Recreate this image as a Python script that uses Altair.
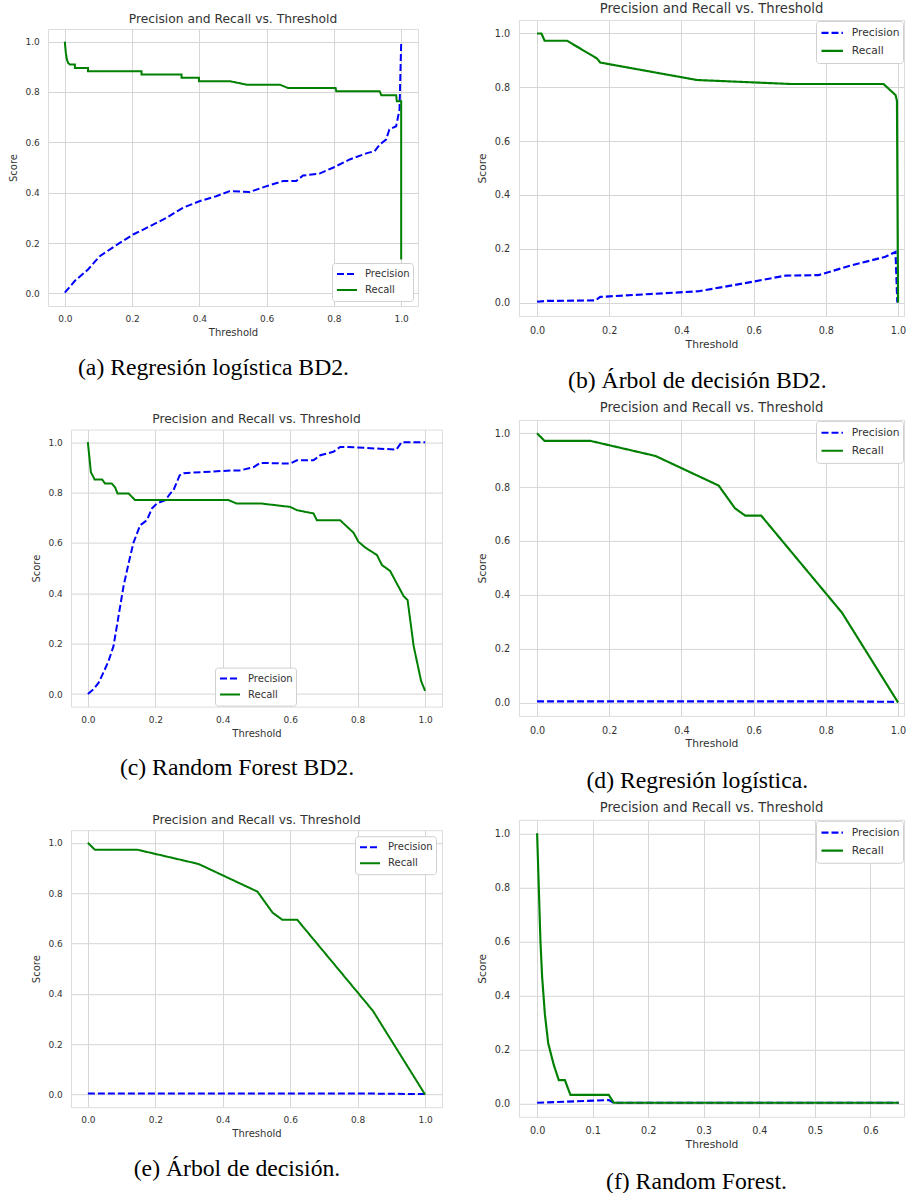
import altair as alt
import pandas as pd

# ---------------- data ----------------
a_prec_x = [0.0, 0.03, 0.069, 0.104, 0.149, 0.203, 0.243, 0.302, 0.351, 0.4, 0.45, 0.49, 0.55, 0.6,
            0.649, 0.688, 0.708, 0.757, 0.797, 0.847, 0.896, 0.921, 0.936, 0.955, 0.965, 0.985, 0.995, 1.0]
a_prec_y = [0.003, 0.05, 0.095, 0.148, 0.188, 0.234, 0.26, 0.30, 0.34, 0.366, 0.386, 0.406, 0.403, 0.426,
            0.446, 0.446, 0.468, 0.476, 0.499, 0.532, 0.556, 0.565, 0.591, 0.611, 0.651, 0.664, 0.73, 0.995]
a_rec_x = [0.0, 0.003, 0.006, 0.01, 0.015, 0.03, 0.03, 0.069, 0.069, 0.228, 0.228, 0.347, 0.347, 0.399,
           0.399, 0.49, 0.54, 0.639, 0.663, 0.805, 0.807, 0.936, 0.941, 0.985, 0.987, 1.0, 1.0]
a_rec_y = [1.0, 0.955, 0.93, 0.915, 0.909, 0.909, 0.895, 0.895, 0.882, 0.882, 0.869, 0.869, 0.856, 0.856,
           0.843, 0.843, 0.829, 0.829, 0.816, 0.816, 0.803, 0.803, 0.787, 0.787, 0.763, 0.763, 0.135]

b_prec_x = [0.0, 0.028, 0.162, 0.175, 0.448, 0.596, 0.688, 0.78, 0.873, 0.965, 0.993, 0.998]
b_prec_y = [0.003, 0.006, 0.008, 0.021, 0.042, 0.077, 0.1, 0.102, 0.139, 0.17, 0.188, 0.0]
b_rec_x = [0.0, 0.012, 0.021, 0.083, 0.166, 0.175, 0.199, 0.443, 0.706, 0.96, 0.993, 0.997, 1.0]
b_rec_y = [1.0, 1.0, 0.973, 0.973, 0.907, 0.892, 0.886, 0.827, 0.812, 0.812, 0.771, 0.75, 0.0]

c_prec_x = [0.0, 0.017, 0.032, 0.046, 0.061, 0.076, 0.091, 0.106, 0.121, 0.135, 0.155, 0.175, 0.19, 0.205,
            0.23, 0.244, 0.254, 0.272, 0.284, 0.432, 0.451, 0.492, 0.511, 0.6, 0.62, 0.669, 0.689, 0.728,
            0.748, 0.788, 0.866, 0.915, 0.93, 1.0]
c_prec_y = [0.0, 0.019, 0.045, 0.085, 0.13, 0.19, 0.31, 0.43, 0.52, 0.6, 0.67, 0.69, 0.737, 0.757,
            0.77, 0.796, 0.81, 0.868, 0.877, 0.888, 0.888, 0.901, 0.918, 0.915, 0.928, 0.928, 0.948, 0.962,
            0.981, 0.98, 0.974, 0.971, 1.0, 1.0]
c_rec_x = [0.0, 0.009, 0.02, 0.042, 0.051, 0.071, 0.081, 0.088, 0.121, 0.14, 0.417, 0.44, 0.511, 0.6,
           0.62, 0.669, 0.679, 0.748, 0.788, 0.802, 0.822, 0.857, 0.872, 0.896, 0.936, 0.948, 0.966, 0.988, 1.0]
c_rec_y = [1.0, 0.881, 0.852, 0.852, 0.836, 0.836, 0.82, 0.796, 0.796, 0.77, 0.77, 0.757, 0.757, 0.743,
           0.73, 0.717, 0.69, 0.69, 0.64, 0.605, 0.582, 0.552, 0.512, 0.489, 0.389, 0.373, 0.19, 0.052, 0.012]

de_prec_x = [0.0, 0.021, 0.148, 0.328, 0.503, 0.548, 0.577, 0.621, 0.845, 1.0]
de_prec_y = [0.004, 0.004, 0.004, 0.004, 0.004, 0.004, 0.004, 0.004, 0.004, 0.002]
de_rec_x = [0.0, 0.021, 0.148, 0.328, 0.503, 0.548, 0.577, 0.621, 0.845, 1.0]
de_rec_y = [1.0, 0.972, 0.972, 0.916, 0.806, 0.722, 0.694, 0.694, 0.333, 0.0]

f_prec_x = [0.0, 0.129, 0.138, 0.651]
f_prec_y = [0.002, 0.012, 0.002, 0.002]
f_rec_x = [0.0, 0.003, 0.006, 0.009, 0.014, 0.02, 0.03, 0.039, 0.05, 0.06, 0.129, 0.138, 0.651]
f_rec_y = [1.0, 0.8, 0.6, 0.469, 0.33, 0.222, 0.142, 0.086, 0.086, 0.031, 0.031, 0.002, 0.002]

score_ticks = [0.0, 0.2, 0.4, 0.6, 0.8, 1.0]
unit_ticks = [0.0, 0.2, 0.4, 0.6, 0.8, 1.0]
f_ticks = [0.0, 0.1, 0.2, 0.3, 0.4, 0.5, 0.6]
metrics = ["Precision", "Recall"]
captions = ["(a) Regresión logística BD2.", "(b) Árbol de decisión BD2.", "(c) Random Forest BD2.",
            "(d) Regresión logística.", "(e) Árbol de decisión.", "(f) Random Forest."]
chart_title = "Precision and Recall vs. Threshold"

GRID = "#d6d6d6"
TXT = "#333333"
FONT = "DejaVu Sans"


def make_df(px, py, rx, ry):
    rows = []
    for i, (x, y) in enumerate(zip(px, py)):
        rows.append({"threshold": x, "score": y, "metric": "Precision", "idx": i})
    for i, (x, y) in enumerate(zip(rx, ry)):
        rows.append({"threshold": x, "score": y, "metric": "Recall", "idx": i})
    return pd.DataFrame(rows)


def indep(c):
    return c.resolve_scale(color="independent", strokeDash="independent").resolve_legend(
        color="independent", strokeDash="independent")


def panel(df, w, h, s, xdomain, xticks, leg):
    legend = alt.Legend(title=None, symbolType="stroke", symbolSize=400 * s * s,
                        symbolStrokeWidth=2 * s, clipHeight=16 * s, rowPadding=0,
                        labelFontSize=10 * s, labelFont=FONT, labelColor=TXT,
                        labelOffset=7 * s, symbolOffset=1, padding=3 * s,
                        fillColor="white", strokeColor="#d0d0d0", cornerRadius=3, **leg)
    axis_common = dict(grid=True, gridColor=GRID, gridWidth=1, domain=False, ticks=False, tickSize=0,
                       labelFontSize=9 * s, labelFont=FONT, labelColor=TXT, labelFlush=False,
                       labelOverlap=False, titleFontSize=10 * s, titleFont=FONT,
                       titleFontWeight="normal", titleColor=TXT, format=".1f")
    x = alt.X("threshold:Q", scale=alt.Scale(domain=xdomain, nice=False, zero=False),
              axis=alt.Axis(values=xticks, title="Threshold", labelPadding=8.5 * s,
                            titlePadding=4 * s, **axis_common))
    y = alt.Y("score:Q", scale=alt.Scale(domain=[-0.05, 1.05], nice=False, zero=False),
              axis=alt.Axis(values=score_ticks, title="Score", labelPadding=8.7 * s,
                            titlePadding=6 * s, **axis_common))
    color = alt.Color("metric:N", scale=alt.Scale(domain=metrics, range=["#0000ff", "#008000"]),
                      legend=legend)
    dash = alt.StrokeDash("metric:N", scale=alt.Scale(domain=metrics, range=[[7, 3], [1, 0]]),
                          legend=legend)
    title = alt.TitleParams(text=chart_title, font=FONT, fontSize=12.3 * s, fontWeight="normal",
                            color=TXT, offset=4 * s, frame="group", anchor="middle")
    return alt.Chart(df).mark_line(strokeWidth=2 * s).encode(
        x=x, y=y, color=color, strokeDash=dash, order="idx:Q"
    ).properties(width=w, height=h, title=title)


def cell(p, caption, off, dx):
    return indep(alt.vconcat(p, title=alt.TitleParams(text=caption, orient="bottom",
                                                       font="Liberation Serif", fontSize=23.7,
                                                       fontWeight="normal", color="black",
                                                       offset=off, anchor="middle", dx=dx)))


def spacer(w, h):
    return alt.Chart(pd.DataFrame({"v": [0]})).mark_point(opacity=0, size=1).encode(
        x=alt.value(w / 2), y=alt.value(h / 2)
    ).properties(width=w, height=h, view=alt.ViewBackground(stroke="transparent"))


def row(w, c):
    return indep(alt.hconcat(spacer(w, 4), c, spacing=1))


S = 1.073
dom = [-0.05, 1.05]
RW = 385  # right-hand plots are cut at the page edge
rdom = [-0.05, 1.0165]
pa = panel(make_df(a_prec_x, a_prec_y, a_rec_x, a_rec_y), 370, 277, 1.0, dom, unit_ticks,
           dict(orient="bottom-right", offset=5))
pc = panel(make_df(c_prec_x, c_prec_y, c_rec_x, c_rec_y), 371, 277, 1.0, dom, unit_ticks,
           dict(orient="none", legendX=144, legendY=238))
pe = panel(make_df(de_prec_x, de_prec_y, de_rec_x, de_rec_y), 371, 277, 1.0, dom, unit_ticks,
           dict(orient="top-right", offset=6))
pb = panel(make_df(b_prec_x, b_prec_y, b_rec_x, b_rec_y), RW, 296, S, rdom, unit_ticks,
           dict(orient="top-right", offset=1))
pd_ = panel(make_df(de_prec_x, de_prec_y, de_rec_x, de_rec_y), RW, 296, S, rdom, unit_ticks,
            dict(orient="top-right", offset=1))
pf = panel(make_df(f_prec_x, f_prec_y, f_rec_x, f_rec_y), RW, 297, S, [-0.0326, 0.6604], f_ticks,
           dict(orient="top-right", offset=1))

left = indep(alt.vconcat(
    row(1, cell(pa, captions[0], 17.7, 0)),
    row(24, cell(pc, captions[2], 17.7, 0)),
    row(24, cell(pe, captions[4], 17.7, 0)),
    spacing=32.6,
))
right = indep(alt.vconcat(
    cell(pb, captions[1], 19.7, 6),
    cell(pd_, captions[3], 19.7, 6),
    cell(pf, captions[5], 19.7, 6),
    spacing=7.9,
))
left_w = indep(alt.vconcat(spacer(4, 12), left, spacing=1))
right_w = indep(alt.vconcat(spacer(4, 1), right, spacing=1))

chart = indep(alt.hconcat(left_w, right_w, spacing=33)).properties(
    padding={"left": 4, "top": -3, "right": 0, "bottom": 0}
).configure_view(stroke="#d0d0d0", strokeWidth=1).configure(background="white")

chart.save("out.html", embed_options={"renderer": "svg", "actions": False})
